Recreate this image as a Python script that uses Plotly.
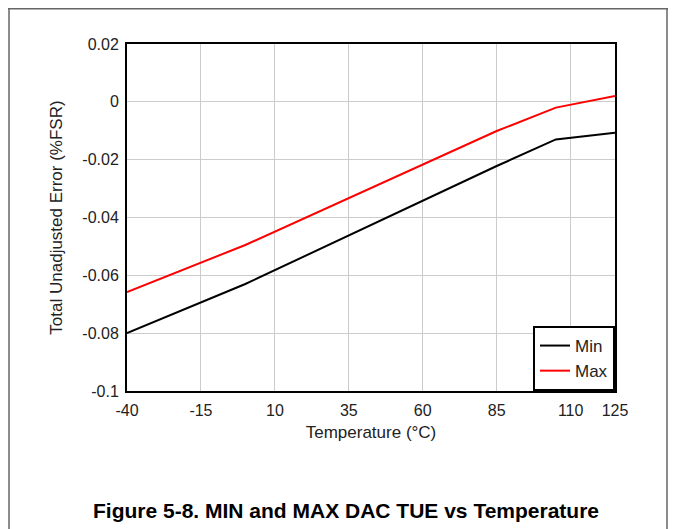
import plotly.graph_objects as go

# data
temp = [-40, 0, 85, 105, 125]
tue_min = [-0.080, -0.063, -0.0222, -0.0130, -0.0107]
tue_max = [-0.0658, -0.0495, -0.0101, -0.0020, 0.0020]

x_ticks = [-40, -15, 10, 35, 60, 85, 110, 125]
x_tick_text = ['-40', '-15', '10', '35', '60', '85', '110', '125']
y_ticks = [0.02, 0, -0.02, -0.04, -0.06, -0.08, -0.1]
y_tick_text = ['0.02', '0', '-0.02', '-0.04', '-0.06', '-0.08', '-0.1']

# the page body adds an 8px margin, so work in page pixels and shift
OFF = 8
W, H = 676 - OFF, 529 - OFF
L, R, T, B = 127, 615, 44, 391   # plot box in page pixels


def px(x):
    return (x - L) / (R - L)


def py(y):
    return (B - y) / (B - T)


fig = go.Figure()
fig.add_trace(go.Scatter(x=temp, y=tue_min, mode='lines', name='Min',
                         line=dict(color='black', width=2)))
fig.add_trace(go.Scatter(x=temp, y=tue_max, mode='lines', name='Max',
                         line=dict(color='#ff0000', width=2)))

font = dict(family='Liberation Sans, Arial, sans-serif', size=16, color='#222')
title_font = dict(family='Liberation Sans, Arial, sans-serif', size=17, color='#222')

fig.update_layout(
    width=W, height=H,
    margin=dict(l=L - OFF, r=W - (R - OFF), t=T - OFF, b=H - (B - OFF), pad=0),
    paper_bgcolor='white', plot_bgcolor='white',
    font=font,
    showlegend=True,
    legend=dict(x=1, y=0, xanchor='right', yanchor='bottom',
                bordercolor='black', borderwidth=2, bgcolor='white',
                font=dict(size=17), itemwidth=30, tracegroupgap=0),
    xaxis=dict(range=[-40, 125], tickvals=x_ticks, ticktext=x_tick_text,
               showgrid=True, gridcolor='#cccccc', gridwidth=1,
               showline=True, linecolor='black', linewidth=2, mirror=True,
               ticks='', zeroline=False, ticklabelstandoff=4,
               title=dict(text='Temperature (°C)', standoff=8, font=title_font)),
    yaxis=dict(range=[-0.1, 0.02], tickvals=y_ticks, ticktext=y_tick_text,
               showgrid=True, gridcolor='#cccccc', gridwidth=1,
               showline=True, linecolor='black', linewidth=2, mirror=True,
               ticks='', zeroline=False, ticklabelstandoff=3,
               title=dict(text='Total Unadjusted Error (%FSR)', standoff=15,
                          font=title_font)),
)

# page frame lines
border = dict(color='#666', width=1.5)
fig.add_shape(type='line', xref='paper', yref='paper',
              x0=px(0), x1=px(676), y0=py(8.8), y1=py(8.8), line=border)
fig.add_shape(type='line', xref='paper', yref='paper',
              x0=px(9), x1=px(9), y0=py(0), y1=py(529), line=border)
fig.add_shape(type='line', xref='paper', yref='paper',
              x0=px(667), x1=px(667), y0=py(0), y1=py(529), line=border)

fig.add_annotation(text='<b>Figure 5-8. MIN and MAX DAC TUE vs Temperature</b>',
                   xref='paper', yref='paper', x=px(346), y=py(510),
                   showarrow=False, xanchor='center', yanchor='middle',
                   font=dict(family='Liberation Sans, Arial, sans-serif',
                             size=21, color='black'))

fig.write_html('out.html')
